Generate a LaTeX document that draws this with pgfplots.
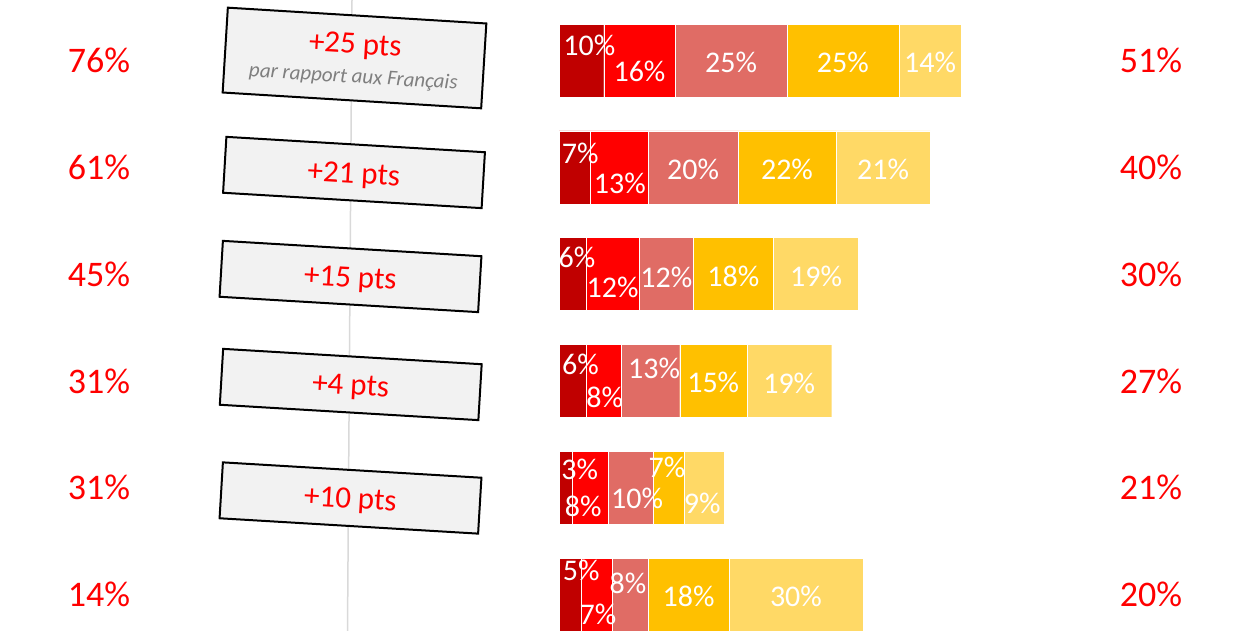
\documentclass[border=0pt]{standalone}
\usepackage{pgfplots}
\pgfplotsset{compat=1.18}
\usepackage{pgfplotstable}
\usepackage{fontspec}
\setmainfont{Carlito}
\definecolor{cA}{HTML}{C00000}
\definecolor{cB}{HTML}{FF0000}
\definecolor{cC}{HTML}{E06C65}
\definecolor{cD}{HTML}{FFC000}
\definecolor{cE}{HTML}{FFD966}
\definecolor{boxfill}{HTML}{F2F2F2}
\definecolor{vline}{HTML}{D9D9D9}
\definecolor{subgray}{HTML}{7F7F7F}

% dx, dy: label offsets (pt) from the segment centre
\pgfplotstableread{
y v dx dy
0 10 8 15
1 7 5.5 14
2 6 4.5 17
3 6 8 17
4 3 14 18
5 5 11 24
}\sA
\pgfplotstableread{
y v dx dy
0 16 0 -11
1 13 0.5 -16
2 12 0 -13.5
3 8 1 -16.5
4 8 -7 -19
5 7 1 -20
}\sB
\pgfplotstableread{
y v dx dy
0 25 0 -2
1 20 0 -2
2 12 0 -3
3 13 3.5 13
4 10 6.5 -11
5 8 -2.5 11
}\sC
\pgfplotstableread{
y v dx dy
0 25 0 -2
1 22 0 -2
2 18 0 -2
3 15 0 -1
4 7 -1.5 20
5 18 0 -2
}\sD
\pgfplotstableread{
y v dx dy
0 14 0 -2
1 21 0 -2
2 19 0 -2
3 19 0 -2
4 9 -2 -16
5 30 0 -2
}\sE

\begin{document}
\begin{tikzpicture}
\useasboundingbox (0,0) rectangle (1255pt,631pt);
\draw[vline, line width=1.5pt] (352pt,631pt) -- (347.5pt,0pt);
\begin{axis}[
  at={(0,0)}, anchor=south west,
  scale only axis, width=1255pt, height=631pt,
  hide axis, clip=false,
  xmin=-125.056, xmax=155.705,
  ymin=-0.56648, ymax=5.34176, y dir=reverse,
  xbar stacked, bar width=73pt,
  point meta=explicit symbolic,
  nodes near coords={\pgfplotspointmeta\%},
  lbl/.style={
    visualization depends on={\thisrow{dx} \as \lblx},
    visualization depends on={\thisrow{dy} \as \lbly},
  },
  every node near coord/.append style={anchor=center, text=white,
    font=\fontsize{30}{30}\selectfont, inner sep=0pt,
    xshift=\lblx pt, yshift=\lbly pt},
]
\addplot[fill=cA, draw=white, line width=0.4pt, lbl] table[x=v, y=y, meta=v] {\sA};
\addplot[fill=cB, draw=white, line width=0.4pt, lbl] table[x=v, y=y, meta=v] {\sB};
\addplot[fill=cC, draw=white, line width=0.4pt, lbl] table[x=v, y=y, meta=v] {\sC};
\addplot[fill=cD, draw=white, line width=0.4pt, lbl] table[x=v, y=y, meta=v] {\sD};
\addplot[fill=cE, draw=white, line width=0.4pt, lbl] table[x=v, y=y, meta=v] {\sE};
\end{axis}

% left and right totals
\foreach \i/\l/\r in {0/76/51, 1/61/40, 2/45/30, 3/31/27, 4/31/21, 5/14/20} {
  \node[text=red, font=\fontsize{36}{36}\selectfont] at (99pt, {570.5pt-106.8pt*\i}) {\l\%};
  \node[text=red, font=\fontsize{36}{36}\selectfont] at (1151pt, {570.5pt-106.8pt*\i}) {\r\%};
}

% boxes
\begin{scope}[shift={(354.5pt,573pt)}, rotate=-3.5, transform shape]
  \draw[fill=boxfill, line width=2pt] (-129.5pt,-42.5pt) rectangle (129.5pt,42.5pt);
  \node[text=red, font=\fontsize{31}{31}\selectfont] at (0,11.7pt) {+25 pts};
  \node[text=subgray, font=\fontsize{21}{21}\selectfont\itshape] at (0,-19.5pt) {par rapport aux Français};
\end{scope}
\foreach \cx/\cy/\t in {354/458.5/+21, 350.5/354.5/+15, 350.75/246.5/+4, 350.5/133/+10} {
  \begin{scope}[shift={(\cx pt,\cy pt)}, rotate=-3.4, transform shape]
    \draw[fill=boxfill, line width=2pt] (-129.5pt,-28pt) rectangle (129.5pt,28pt);
    \node[text=red, font=\fontsize{31}{31}\selectfont] at (0,-3pt) {\t{} pts};
  \end{scope}
}
\end{tikzpicture}
\end{document}
